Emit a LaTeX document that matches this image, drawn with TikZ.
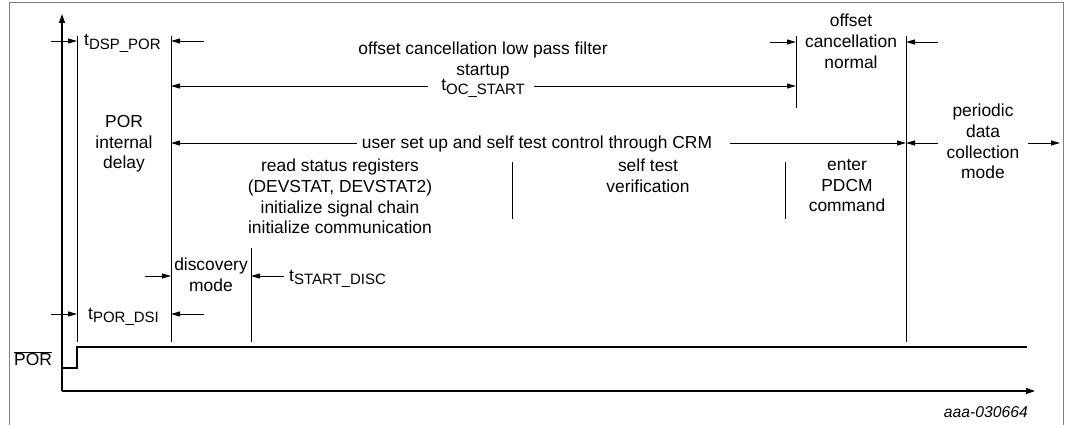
\documentclass[tikz,border=0pt]{standalone}
\usepackage{fontspec}
\setmainfont{Liberation Sans}
\usetikzlibrary{arrows.meta}
\newcommand\tsubx[1]{t\raisebox{-3.5pt}{\fontsize{15}{15}\selectfont #1}}
\begin{document}
\begin{tikzpicture}[x=1pt,y=-1pt,
  lbl/.style={inner sep=0pt, align=center, font=\fontsize{17.4}{20.7}\selectfont},
  tlbl/.style={inner sep=0pt, font=\fontsize{17.4}{20.7}\selectfont},
  vline/.style={line width=0.9pt},
  arr/.style={line width=0.9pt, -{Triangle[length=9pt,width=5pt]}},
  axis/.style={line width=1.2pt, -{Triangle[length=9pt,width=6pt]}},
  sig/.style={line width=2.2pt},
  frame/.style={draw=black!50, line width=1pt}]
\useasboundingbox (0,0) rectangle (1066,425);
\draw[frame] (9,426) -- (9,3) -- (1063,3) -- (1063,426);

% axes
\coordinate (O) at (62,391);
\coordinate (Ytop) at (62,14);
\coordinate (Xend) at (1035,391);
\draw[axis] (O) -- (Ytop);
\draw[axis] (O) -- (Xend);

% POR signal
\coordinate (p0) at (62,368);
\coordinate (p1) at (77,368);
\coordinate (p2) at (77,347);
\coordinate (p3) at (1027,347);
\draw[sig] (p0) -- (p1) -- (p2) -- (p3);
\node[tlbl] (porbar) at (33,359) {\(\overline{\mbox{POR}}\)};

% vertical markers
\coordinate (a1) at (77,36);   \coordinate (a2) at (77,342);
\coordinate (b1) at (171,36);  \coordinate (b2) at (171,342);
\coordinate (c1) at (251,248); \coordinate (c2) at (251,342);
\coordinate (d1) at (512,162); \coordinate (d2) at (512,219);
\coordinate (e1) at (785,162); \coordinate (e2) at (785,219);
\coordinate (f1) at (796,36);  \coordinate (f2) at (796,108);
\coordinate (g1) at (906,36);  \coordinate (g2) at (906,342);
\foreach \s in {a,b,c,d,e,f,g} \draw[vline] (\s1) -- (\s2);

% tDSP_POR
\coordinate (dspL) at (51,41);
\coordinate (dspR) at (204,41);
\draw[arr] (dspL) -- (dspL -| a1);
\draw[arr] (dspR) -- (dspR -| b1);
\node[tlbl, anchor=base west] (tdsp) at (84,46) {\tsubx{DSP\_POR}};

% tPOR_DSI
\coordinate (dsiL) at (51,314);
\coordinate (dsiR) at (204,314);
\draw[arr] (dsiL) -- (dsiL -| a1);
\draw[arr] (dsiR) -- (dsiR -| b1);
\node[tlbl, anchor=base west] (tdsi) at (88,319) {\tsubx{POR\_DSI}};

% discovery mode
\coordinate (discL) at (145,276);
\coordinate (discR) at (284,276);
\draw[arr] (discL) -- (discL -| b1);
\draw[arr] (discR) -- (discR -| c1);
\node[tlbl, anchor=base west] (tsd) at (289,281) {\tsubx{START\_DISC}};
\node[lbl, anchor=north] (disc) at (211,258) {discovery\\mode};

% offset cancellation startup
\node[lbl, anchor=north] (ocs) at (483,42) {offset cancellation low pass filter\\startup};
\node[tlbl, anchor=base] (toc) at (483,91) {\tsubx{OC\_START}};
\coordinate (ocL) at (428,86);
\coordinate (ocR) at (534,86);
\draw[arr] (ocL) -- (ocL -| b1);
\draw[arr] (ocR) -- (ocR -| f1);

% offset cancellation normal
\coordinate (ocnL) at (770,42);
\coordinate (ocnR) at (938,42);
\draw[arr] (ocnL) -- (ocnL -| f1);
\draw[arr] (ocnR) -- (ocnR -| g1);
\node[lbl, anchor=north] (ocn) at (851,14) {offset\\cancellation\\normal};

% user set up
\coordinate (usL) at (357,143);
\coordinate (usR) at (730,143);
\draw[arr] (usL) -- (usL -| b1);
\draw[arr] (usR) -- (usR -| g1);
\node[tlbl, anchor=base] (us) at (537,149) {user set up and self test control through CRM};

% periodic data collection mode
\coordinate (pdL) at (938,143);
\coordinate (pdR1) at (1028,143);
\coordinate (pdR2) at (1060,143);
\draw[arr] (pdL) -- (pdL -| g1);
\draw[arr] (pdR1) -- (pdR2);
\node[lbl, anchor=north] (pd) at (983,104) {periodic\\data\\collection\\mode};

% other labels
\node[lbl, anchor=north] (por) at (124,115) {POR\\internal\\delay};
\node[lbl, anchor=north] (rs) at (340,159) {read status registers\\(DEVSTAT, DEVSTAT2)\\initialize signal chain\\initialize communication};
\node[lbl, anchor=north] (st) at (648,159) {self test\\verification};
\node[lbl, anchor=north] (pdcm) at (847,159) {enter\\PDCM\\command};

\node[inner sep=0pt, anchor=base east, font=\fontsize{15.7}{15.7}\selectfont\itshape] (id) at (1028,417) {aaa-030664};
\end{tikzpicture}
\end{document}
